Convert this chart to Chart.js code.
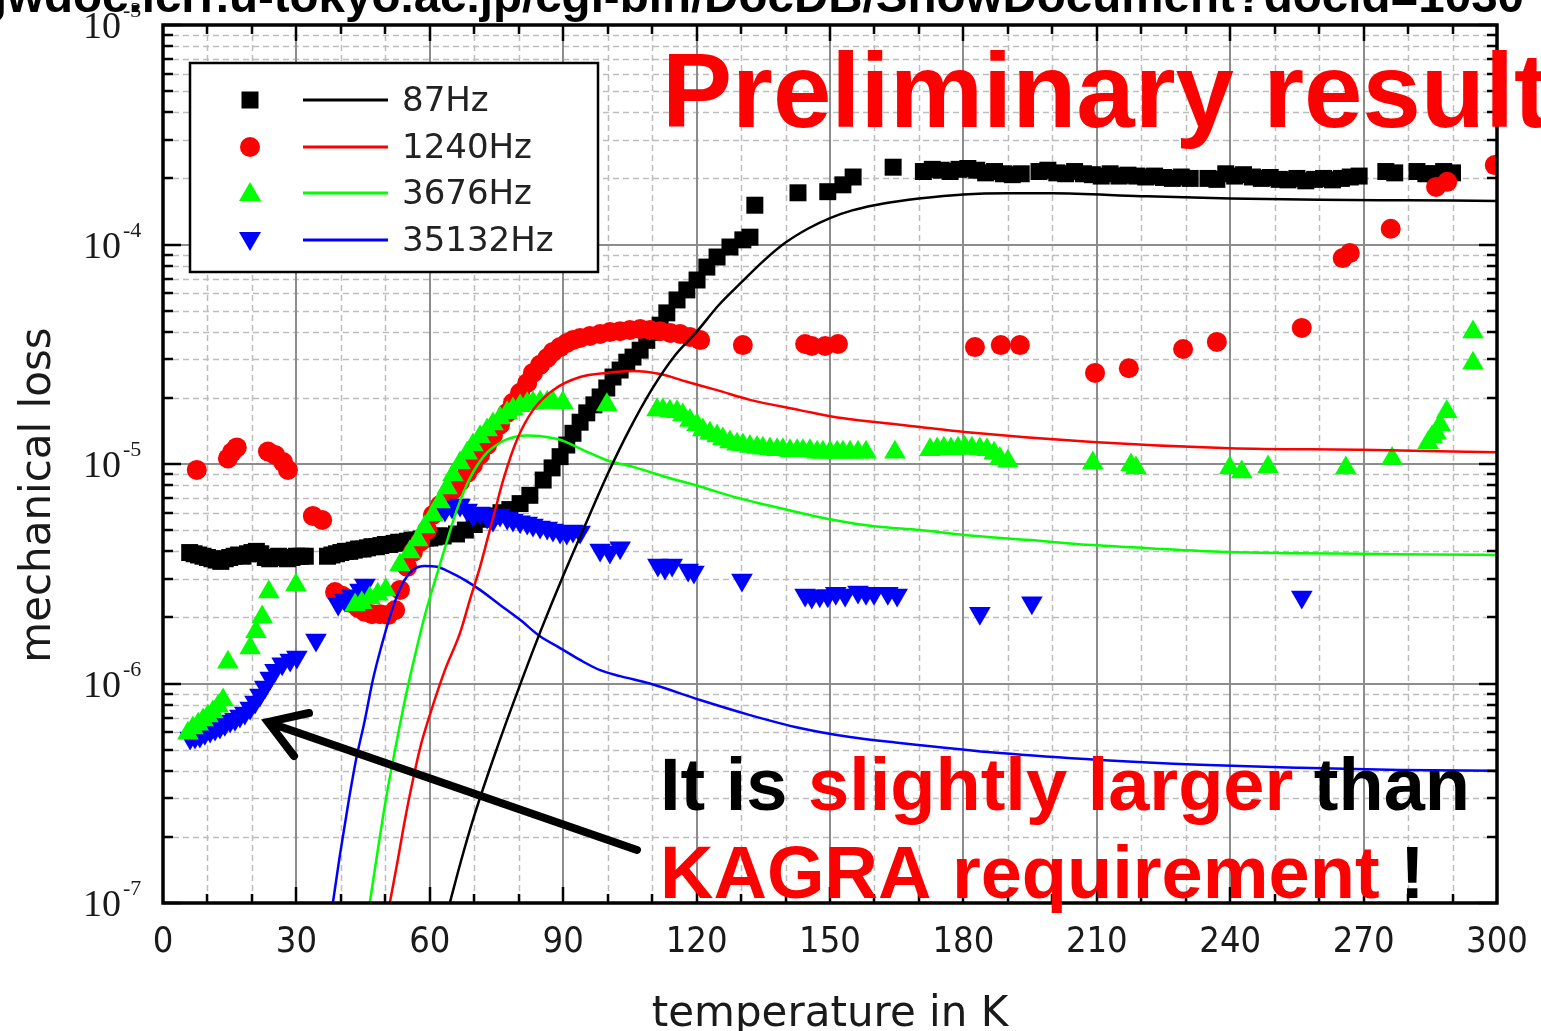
<!DOCTYPE html>
<html lang="en">
<head>
<meta charset="UTF-8">
<title>Mechanical loss vs temperature</title>
<style>
  html, body { margin: 0; padding: 0; background: #ffffff; }
  #lossChart { display: block; }
</style>
</head>
<body>
<canvas id="lossChart" width="1541" height="1031"></canvas>
<script src="https://cdn.jsdelivr.net/npm/chart.js@4"></script>
<script>
// measured loss, 87 Hz mode
const temp87 = [6, 7, 8, 9, 10, 11, 12, 13, 14, 15, 16, 17, 18, 19, 20, 21, 22, 23, 24, 25, 26, 27, 28, 29, 30, 31, 32,
  37, 38, 39, 40, 41, 42, 43, 44, 45, 46, 47, 48, 49, 50, 51, 52, 53, 54, 55, 56, 57, 58, 59, 60, 61, 62, 63,
  66, 68, 70, 72, 74, 76, 78,
  80.3, 82.5, 85.5, 87.5, 89.3, 90.8, 92.2, 93.8, 95.3, 96.9, 98.3, 99.8, 101.2, 102.8, 104.3, 105.7, 107.3, 108.8,
  110.2, 111.8, 113.3, 115.6, 117.8, 120.1, 122.3, 124.6, 127.5, 130.4, 132,
  133.1, 142.8, 149.5, 152.9, 155.2, 164.2,
  171, 173, 175, 177, 179, 181, 183, 185, 187, 189, 191, 193,
  197, 199, 201, 203, 205, 207, 209, 211, 213, 215, 217, 219, 221, 223, 225, 227, 229, 231, 235, 237,
  239, 241, 243, 245, 247, 249, 251, 253, 255, 257, 259, 261, 263, 265, 267, 269,
  275, 277, 282, 284, 286, 288, 290];
const loss87 = [3.95e-6, 3.9e-6, 3.85e-6, 3.8e-6, 3.75e-6, 3.7e-6, 3.65e-6, 3.6e-6, 3.7e-6, 3.75e-6, 3.8e-6, 3.85e-6, 3.8e-6,
  3.9e-6, 3.95e-6, 4.0e-6, 3.9e-6, 3.75e-6, 3.7e-6, 3.75e-6, 3.8e-6, 3.75e-6, 3.7e-6, 3.75e-6, 3.8e-6, 3.8e-6, 3.8e-6,
  3.8e-6, 3.85e-6, 3.9e-6, 3.95e-6, 4.0e-6, 4.0e-6, 4.05e-6, 4.1e-6, 4.1e-6, 4.15e-6, 4.2e-6, 4.2e-6, 4.25e-6, 4.3e-6,
  4.3e-6, 4.35e-6, 4.4e-6, 4.4e-6, 4.45e-6, 4.5e-6, 4.5e-6, 4.55e-6, 4.6e-6, 4.6e-6, 4.65e-6, 4.7e-6, 4.7e-6,
  4.8e-6, 5.0e-6, 5.3e-6, 5.6e-6, 5.8e-6, 6.0e-6, 6.2e-6,
  6.6e-6, 7.2e-6, 8.45e-6, 9.6e-6, 1.08e-5, 1.22e-5, 1.38e-5, 1.55e-5, 1.71e-5, 1.86e-5, 2.02e-5, 2.22e-5, 2.49e-5,
  2.68e-5, 2.91e-5, 3.07e-5, 3.3e-5, 3.66e-5, 3.98e-5, 4.29e-5, 4.88e-5, 5.59e-5, 6.21e-5, 6.89e-5, 7.89e-5, 8.77e-5,
  9.74e-5, 1.05e-4, 1.08e-4,
  1.51e-4, 1.72e-4, 1.74e-4, 1.87e-4, 2.03e-4, 2.25e-4,
  2.15e-4, 2.2e-4, 2.18e-4, 2.15e-4, 2.2e-4, 2.22e-4, 2.18e-4, 2.12e-4, 2.15e-4, 2.1e-4, 2.08e-4, 2.1e-4,
  2.15e-4, 2.18e-4, 2.12e-4, 2.1e-4, 2.15e-4, 2.1e-4, 2.08e-4, 2.05e-4, 2.1e-4, 2.05e-4, 2.07e-4, 2.05e-4, 2.03e-4,
  2.05e-4, 2.02e-4, 2.0e-4, 2.03e-4, 2.0e-4, 2.0e-4, 1.98e-4,
  2.1e-4, 2.05e-4, 2.08e-4, 2.03e-4, 2.0e-4, 2.02e-4, 1.98e-4, 1.97e-4, 2.0e-4, 1.95e-4, 1.98e-4, 2.0e-4, 1.97e-4,
  2.0e-4, 2.03e-4, 2.05e-4,
  2.15e-4, 2.12e-4, 2.15e-4, 2.1e-4, 2.1e-4, 2.15e-4, 2.12e-4];

// measured loss, 1240 Hz mode
const temp1240 = [7.6, 14.6, 15.5, 16.6, 23.6, 25.2, 27.0, 28.1, 33.7, 35.8,
  38.7, 40.3, 42.1, 43.9, 45.4, 47.0, 48.8, 50.6, 52.2, 53.3, 54.9, 56.2, 57.8, 59.4, 60.7, 62.3, 63.9, 65.2, 66.8,
  68.4, 69.7, 71.3, 72.9, 74.2, 75.8, 77.4, 78.7, 80.3, 81.9, 83.2, 84.8, 86.4, 87.7, 89.3, 90.8, 92.2, 93.8, 96.0,
  98.3, 100.5, 102.8, 105.0, 107.3, 109.5, 111.8, 114.1, 116.3, 118.5, 120.8,
  130.4, 144.4, 145.9, 148.9, 151.8, 182.6, 188.4, 192.7, 209.6, 217.2, 229.4, 237.0, 256.1, 265.3, 266.9, 276.1,
  286.3, 288.8, 299.5];
const loss1240 = [9.4e-6, 1.06e-5, 1.13e-5, 1.19e-5, 1.14e-5, 1.10e-5, 1.02e-5, 9.4e-6, 5.8e-6, 5.56e-6,
  2.61e-6, 2.51e-6, 2.33e-6, 2.21e-6, 2.12e-6, 2.07e-6, 2.07e-6, 2.05e-6, 2.16e-6, 2.67e-6, 3.4e-6, 3.97e-6, 4.41e-6,
  5.0e-6, 5.86e-6, 6.5e-6, 7.08e-6, 7.62e-6, 8.28e-6, 9.1e-6, 9.9e-6, 1.10e-5, 1.22e-5, 1.35e-5, 1.51e-5, 1.71e-5,
  1.90e-5, 2.11e-5, 2.34e-5, 2.60e-5, 2.83e-5, 3.04e-5, 3.24e-5, 3.41e-5, 3.56e-5, 3.67e-5, 3.75e-5, 3.83e-5, 3.91e-5,
  3.99e-5, 4.03e-5, 4.08e-5, 4.12e-5, 4.08e-5, 4.03e-5, 3.95e-5, 3.91e-5, 3.79e-5, 3.67e-5,
  3.48e-5, 3.52e-5, 3.45e-5, 3.45e-5, 3.52e-5, 3.41e-5, 3.48e-5, 3.48e-5, 2.60e-5, 2.73e-5, 3.34e-5, 3.60e-5,
  4.17e-5, 8.67e-5, 9.14e-5, 1.18e-4, 1.83e-4, 1.93e-4, 2.30e-4];

// measured loss, 3676 Hz mode
const temp3676 = [5.6, 6.7, 7.9, 9.0, 10.1, 11.2, 12.4, 13.5, 14.6, 19.6, 20.9, 22.3, 23.8, 29.9,
  43.2, 44.7, 46.5, 48.3, 50.1,
  53.3, 55.5, 57.3, 58.9, 60.7, 62.3, 63.9, 65.2, 66.8, 68.4, 69.7, 71.3, 72.9, 74.2, 75.8, 77.4, 78.7, 80.3, 81.9,
  83.2, 84.8, 86.4, 87.7, 89.9, 99.8,
  111.1, 112.4, 114.0, 115.6, 116.9, 118.5, 120.1, 121.4, 123.0, 124.6, 125.9, 127.5, 129.1, 130.4, 132.0, 133.6,
  134.9, 136.5, 138.1, 139.4, 141.0, 142.6, 143.9, 145.5, 147.1, 148.4, 150.0, 151.6, 152.9, 154.5, 156.3, 158.1,
  164.6, 172.5, 174.1, 175.6, 177.2, 178.8, 180.3, 181.9, 183.7, 185.3, 186.9, 188.2, 190.0,
  209.1, 217.7, 218.8, 239.9, 242.6, 248.5, 266.0, 276.4, 284.5, 285.4, 286.3, 287.2, 288.7, 294.6, 294.6];
const loss3676 = [5.94e-7, 6.27e-7, 6.53e-7, 6.82e-7, 7.11e-7, 7.41e-7, 7.88e-7, 8.41e-7, 1.25e-6, 1.45e-6, 1.72e-6,
  2.01e-6, 2.61e-6, 2.81e-6,
  2.28e-6, 2.33e-6, 2.45e-6, 2.55e-6, 2.67e-6,
  3.47e-6, 3.97e-6, 4.5e-6, 5.16e-6, 5.86e-6, 6.71e-6, 7.78e-6, 8.91e-6, 1.01e-5, 1.12e-5, 1.22e-5, 1.33e-5, 1.43e-5,
  1.52e-5, 1.62e-5, 1.71e-5, 1.78e-5, 1.84e-5, 1.88e-5, 1.90e-5, 1.91e-5, 1.91e-5, 1.91e-5, 1.90e-5, 1.86e-5,
  1.76e-5, 1.76e-5, 1.74e-5, 1.73e-5, 1.67e-5, 1.58e-5, 1.51e-5, 1.43e-5, 1.38e-5, 1.34e-5, 1.30e-5, 1.26e-5,
  1.23e-5, 1.22e-5, 1.20e-5, 1.19e-5, 1.18e-5, 1.17e-5, 1.16e-5, 1.16e-5, 1.15e-5, 1.15e-5, 1.15e-5, 1.15e-5,
  1.13e-5, 1.13e-5, 1.13e-5, 1.13e-5, 1.13e-5, 1.13e-5, 1.13e-5, 1.13e-5,
  1.13e-5, 1.16e-5, 1.17e-5, 1.18e-5, 1.17e-5, 1.18e-5, 1.19e-5, 1.18e-5, 1.17e-5, 1.16e-5, 1.12e-5, 1.06e-5, 1.03e-5,
  1.01e-5, 9.9e-6, 9.6e-6, 9.6e-6, 9.2e-6, 9.7e-6, 9.6e-6, 1.06e-5, 1.25e-5, 1.33e-5, 1.38e-5, 1.51e-5, 1.73e-5,
  2.88e-5, 3.99e-5];

// measured loss, 35132 Hz mode
const temp35132 = [6.1, 7.2, 8.3, 9.4, 10.6, 11.7, 12.8, 13.9, 15.1, 16.2, 17.3, 18.4, 19.6, 20.7, 21.8, 22.9, 24.1,
  25.2, 26.8, 28.6, 30.1, 34.4,
  39.4, 40.9, 42.5, 44.3, 45.4,
  63.4, 65.0, 66.8, 68.4, 69.7, 71.3, 72.9, 74.2, 75.8, 77.4, 78.7, 80.3, 81.9, 83.2, 84.8, 86.4, 87.7, 89.3, 90.8,
  92.2, 93.8, 98.3, 100.5, 102.8, 111.3, 112.9, 114.5, 118.1, 119.4, 130.2,
  144.4, 145.9, 147.7, 149.5, 151.3, 153.4, 156.3, 158.1, 159.9, 163.0, 165.1, 183.7, 195.4, 256.1];
const loss35132 = [5.65e-7, 5.7e-7, 5.76e-7, 5.94e-7, 6.07e-7, 6.2e-7, 6.33e-7, 6.53e-7, 6.74e-7, 6.88e-7, 7.11e-7,
  7.34e-7, 7.73e-7, 8.24e-7, 8.87e-7, 9.65e-7, 1.06e-6, 1.15e-6, 1.23e-6, 1.28e-6, 1.32e-6, 1.58e-6,
  2.30e-6, 2.40e-6, 2.51e-6, 2.67e-6, 2.81e-6,
  6.17e-6, 6.37e-6, 6.5e-6, 6.17e-6, 5.86e-6, 5.98e-6, 5.74e-6, 5.56e-6, 5.86e-6, 5.68e-6, 5.56e-6, 5.45e-6,
  5.39e-6, 5.27e-6, 5.16e-6, 5.11e-6, 5.0e-6, 4.9e-6, 4.85e-6, 4.95e-6, 4.9e-6, 4.06e-6, 3.97e-6, 4.15e-6,
  3.47e-6, 3.36e-6, 3.47e-6, 3.29e-6, 3.22e-6, 2.96e-6,
  2.53e-6, 2.48e-6, 2.51e-6, 2.51e-6, 2.58e-6, 2.53e-6, 2.61e-6, 2.58e-6, 2.58e-6, 2.58e-6, 2.53e-6, 2.09e-6,
  2.33e-6, 2.48e-6];

// model curves
const fitTemp87 = [64.5, 67, 70, 75, 80, 85, 90, 95, 100, 105, 110, 115, 120, 125, 130, 135, 140, 145, 150, 155, 160,
  165, 170, 180, 190, 200, 220, 240, 260, 280, 300];
const fit87 = [1.0e-7, 1.55e-7, 2.5e-7, 5.0e-7, 9.5e-7, 1.75e-6, 3.1e-6, 5.3e-6, 9.0e-6, 1.45e-5, 2.2e-5, 3.1e-5,
  4.0e-5, 5.3e-5, 6.7e-5, 8.4e-5, 1.02e-4, 1.18e-4, 1.32e-4, 1.43e-4, 1.51e-4, 1.57e-4, 1.62e-4, 1.69e-4, 1.71e-4,
  1.71e-4, 1.66e-4, 1.62e-4, 1.60e-4, 1.59e-4, 1.58e-4];

const fitTemp1240 = [51.0, 52.8, 54.4, 56.2, 58.0, 60.0, 63.4, 66.8, 69.0, 71.3, 72.9, 74.7, 76.5, 79.6, 83.2, 87.7,
  93.8, 99.8, 105.7, 111.8, 117.8, 124.6, 132.0, 143.2, 150.7, 165.7, 180.3, 209.1, 239.9, 269.6, 300];
const fit1240 = [1.0e-7, 1.57e-7, 2.39e-7, 3.63e-7, 5.25e-7, 7.18e-7, 1.15e-6, 1.70e-6, 2.40e-6, 3.40e-6, 4.5e-6,
  6.17e-6, 8.45e-6, 1.29e-5, 1.76e-5, 2.17e-5, 2.49e-5, 2.60e-5, 2.65e-5, 2.57e-5, 2.37e-5, 2.17e-5, 1.96e-5,
  1.76e-5, 1.64e-5, 1.51e-5, 1.40e-5, 1.26e-5, 1.18e-5, 1.16e-5, 1.13e-5];

const fitTemp3676 = [46.5, 48.3, 50.1, 52.2, 54.4, 56.7, 58.9, 61.2, 63.4, 66.1, 69.0, 72.4, 75.8, 79.2, 81.9, 84.8,
  89.3, 94.4, 99.8, 105.7, 113.3, 120.8, 128.2, 135.8, 143.2, 150, 160, 170.2, 180.3, 195, 209.1, 225, 239.9, 255,
  269.6, 285, 300];
const fit3676 = [1.0e-7, 1.74e-7, 2.95e-7, 5.0e-7, 8.4e-7, 1.35e-6, 2.05e-6, 2.96e-6, 4.15e-6, 6.2e-6, 8.6e-6,
  1.1e-5, 1.25e-5, 1.33e-5, 1.35e-5, 1.34e-5, 1.29e-5, 1.16e-5, 1.04e-5, 9.7e-6, 8.7e-6, 7.9e-6, 7.1e-6, 6.5e-6,
  6.0e-6, 5.6e-6, 5.2e-6, 5.0e-6, 4.75e-6, 4.5e-6, 4.27e-6, 4.1e-6, 3.97e-6, 3.92e-6, 3.9e-6, 3.87e-6, 3.85e-6];

const fitTemp35132 = [38.2, 39.8, 41.6, 43.4, 45.4, 47.2, 49.2, 51.5, 53.7, 56.2, 58.9, 61.6, 64.5, 67.9, 71.3,
  75.8, 80.3, 84.8, 89.3, 93.8, 98.3, 102.8, 109.5, 120.8, 132.0, 143.2, 154.5, 165.7, 188.2, 210.7, 233.2, 255.7,
  278.2, 300];
const fit35132 = [1.0e-7, 1.66e-7, 2.79e-7, 4.48e-7, 6.82e-7, 1.04e-6, 1.50e-6, 2.16e-6, 2.81e-6, 3.29e-6, 3.43e-6,
  3.40e-6, 3.22e-6, 2.96e-6, 2.67e-6, 2.28e-6, 1.95e-6, 1.64e-6, 1.45e-6, 1.28e-6, 1.15e-6, 1.08e-6, 1.0e-6, 8.41e-7,
  7.18e-7, 6.27e-7, 5.7e-7, 5.36e-7, 4.82e-7, 4.48e-7, 4.26e-7, 4.13e-7, 4.04e-7, 4.0e-7];

const seriesLabels = ['87Hz', '1240Hz', '3676Hz', '35132Hz'];
const seriesColors = ['#000000', '#ff0000', '#00ff00', '#0000ff'];
const tempTicks = [0, 30, 60, 90, 120, 150, 180, 210, 240, 270, 300];
const lossExponents = [-7, -6, -5, -4, -3];

function pairs(xs, ys) {
  return xs.map((t, i) => ({ x: t, y: ys[i] }));
}

function measured(i, xs, ys, style, radius, rotation, order) {
  return {
    label: seriesLabels[i],
    type: 'scatter',
    data: pairs(xs, ys),
    pointStyle: style,
    pointRadius: radius,
    rotation: rotation,
    backgroundColor: seriesColors[i],
    borderWidth: 0,
    clip: 0,
    order: order
  };
}

function model(i, xs, ys) {
  return {
    label: seriesLabels[i] + ' model',
    type: 'line',
    data: pairs(xs, ys),
    showLine: true,
    borderColor: seriesColors[i],
    borderWidth: 2.5,
    pointRadius: 0,
    cubicInterpolationMode: 'monotone',
    fill: false,
    clip: 0,
    order: 0
  };
}

const datasets = [
  model(0, fitTemp87, fit87),
  model(1, fitTemp1240, fit1240),
  model(2, fitTemp3676, fit3676),
  model(3, fitTemp35132, fit35132),
  measured(2, temp3676, loss3676, 'triangle', 12.5, 0, 1),
  measured(3, temp35132, loss35132, 'triangle', 12.5, 180, 2),
  measured(1, temp1240, loss1240, 'circle', 10, 0, 3),
  measured(0, temp87, loss87, 'rect', 12, 0, 4)
];

function hline(ctx, x1, x2, y) {
  ctx.beginPath(); ctx.moveTo(x1, y); ctx.lineTo(x2, y); ctx.stroke();
}
function vline(ctx, x, y1, y2) {
  ctx.beginPath(); ctx.moveTo(x, y1); ctx.lineTo(x, y2); ctx.stroke();
}

function marker(ctx, kind, x, y, color) {
  ctx.fillStyle = color;
  ctx.beginPath();
  if (kind === 'rect') {
    ctx.rect(x - 8.5, y - 8.5, 17, 17);
  } else if (kind === 'circle') {
    ctx.arc(x, y, 10, 0, Math.PI * 2);
  } else if (kind === 'up') {
    ctx.moveTo(x, y - 11); ctx.lineTo(x + 11, y + 8); ctx.lineTo(x - 11, y + 8);
  } else {
    ctx.moveTo(x, y + 11); ctx.lineTo(x + 11, y - 8); ctx.lineTo(x - 11, y - 8);
  }
  ctx.closePath();
  ctx.fill();
}

function runs(ctx, parts, x, y) {
  for (const [text, color] of parts) {
    ctx.fillStyle = color;
    ctx.fillText(text, x, y);
    x += ctx.measureText(text).width;
  }
}

// grid, frame, axis text, legend and notes around the plotted data
const decorations = {
  id: 'decorations',
  beforeDatasetsDraw(chart) {
    const { ctx, chartArea: a, scales: { x, y } } = chart;
    ctx.save();
    ctx.lineWidth = 1.5;
    ctx.strokeStyle = '#bdbdbd';
    ctx.setLineDash([6, 4]);
    for (let t = 10; t < 300; t += 10) {
      if (t % 30 !== 0) vline(ctx, Math.round(x.getPixelForValue(t)) + 0.5, a.top, a.bottom);
    }
    for (let e = -7; e < -3; e++) {
      for (let m = 2; m <= 9; m++) {
        hline(ctx, a.left, a.right, Math.round(y.getPixelForValue(m * Math.pow(10, e))) + 0.5);
      }
    }
    ctx.setLineDash([]);
    ctx.strokeStyle = '#8c8c8c';
    ctx.lineWidth = 2;
    tempTicks.forEach(t => vline(ctx, Math.round(x.getPixelForValue(t)), a.top, a.bottom));
    lossExponents.forEach(e => hline(ctx, a.left, a.right, Math.round(y.getPixelForValue(Math.pow(10, e)))));
    ctx.restore();
  },
  afterDatasetsDraw(chart) {
    const { ctx, chartArea: a, scales: { x, y } } = chart;
    ctx.save();

    // tick marks pointing into the frame
    ctx.strokeStyle = '#000';
    ctx.lineWidth = 2.5;
    for (let t = 10; t < 300; t += 10) {
      const px = Math.round(x.getPixelForValue(t));
      const len = t % 30 === 0 ? 16 : 9;
      vline(ctx, px, a.top, a.top + len);
      vline(ctx, px, a.bottom, a.bottom - len);
    }
    for (let e = -7; e <= -3; e++) {
      for (let m = 1; m <= 9; m++) {
        if (e === -3 && m > 1) break;
        const py = Math.round(y.getPixelForValue(m * Math.pow(10, e)));
        const len = m === 1 ? 18 : 10;
        hline(ctx, a.left, a.left + len, py);
        hline(ctx, a.right, a.right - len, py);
      }
    }
    ctx.lineWidth = 3.5;
    ctx.strokeRect(a.left, a.top, a.right - a.left, a.bottom - a.top);

    // axis numbers
    ctx.fillStyle = '#1a1a1a';
    ctx.textAlign = 'center';
    ctx.textBaseline = 'alphabetic';
    ctx.font = '36px "Liberation Sans Narrow", "DejaVu Sans Condensed", sans-serif';
    tempTicks.forEach(t => ctx.fillText(String(t), x.getPixelForValue(t), 952));
    lossExponents.forEach(e => {
      const py = y.getPixelForValue(Math.pow(10, e));
      ctx.textAlign = 'right';
      ctx.font = '38px "Liberation Serif", serif';
      ctx.fillText('10', 121, py + 13);
      ctx.textAlign = 'left';
      ctx.font = '22px "Liberation Serif", serif';
      ctx.fillText(String(e), 123, py - 8);
    });

    // axis titles
    ctx.font = '42px "DejaVu Sans", Verdana, sans-serif';
    ctx.textAlign = 'center';
    ctx.fillText('temperature in K', (a.left + a.right) / 2, 1026);
    ctx.save();
    ctx.translate(50, 495);
    ctx.rotate(-Math.PI / 2);
    ctx.fillText('mechanical loss', 0, 0);
    ctx.restore();

    // legend
    ctx.fillStyle = '#fff';
    ctx.fillRect(190, 63, 408, 209);
    ctx.strokeStyle = '#000';
    ctx.lineWidth = 2.5;
    ctx.strokeRect(190, 63, 408, 209);
    const rows = [100, 147, 193, 240];
    const kinds = ['rect', 'circle', 'up', 'down'];
    ctx.font = '34px "DejaVu Sans", Verdana, sans-serif';
    ctx.textAlign = 'left';
    ctx.textBaseline = 'middle';
    rows.forEach((ry, i) => {
      marker(ctx, kinds[i], 250, ry, seriesColors[i]);
      ctx.strokeStyle = seriesColors[i];
      ctx.lineWidth = 3;
      hline(ctx, 303, 388, ry);
      ctx.fillStyle = '#222';
      ctx.fillText(seriesLabels[i], 402, ry + 2);
    });

    // notes
    ctx.textBaseline = 'alphabetic';
    ctx.font = 'bold 105px "Liberation Sans", Arial, sans-serif';
    ctx.fillStyle = '#ff0000';
    ctx.fillText('Preliminary result', 662, 127);

    ctx.font = 'bold 74px "Liberation Sans", Arial, sans-serif';
    runs(ctx, [['It is ', '#000'], ['slightly larger', '#ff0000'], [' than', '#000']], 660, 810);
    runs(ctx, [['KAGRA requirement', '#ff0000'], [' !', '#000']], 660, 898);

    // arrow
    ctx.strokeStyle = '#000';
    ctx.lineWidth = 8;
    ctx.lineCap = 'round';
    ctx.beginPath();
    ctx.moveTo(637, 850);
    ctx.lineTo(270, 723);
    ctx.moveTo(309, 713);
    ctx.lineTo(268, 722);
    ctx.lineTo(294, 756);
    ctx.stroke();

    // source line, cut by the top edge
    const source = 'gwdoc.icrr.u-tokyo.ac.jp/cgi-bin/DocDB/ShowDocument?docid=1030';
    ctx.fillStyle = '#000';
    ctx.font = 'bold 46px "Liberation Sans", Arial, sans-serif';
    ctx.textAlign = 'left';
    const w = ctx.measureText(source).width;
    ctx.translate(-22, 12);
    ctx.scale(1546 / w, 1);
    ctx.fillText(source, 0, 0);

    ctx.restore();
  }
};

new Chart(document.getElementById('lossChart'), {
  type: 'scatter',
  data: { datasets: datasets },
  options: {
    responsive: false,
    animation: false,
    layout: { padding: { left: 163, right: 44, top: 25, bottom: 128 } },
    plugins: {
      legend: { display: false },
      tooltip: { enabled: false }
    },
    scales: {
      x: { type: 'linear', min: 0, max: 300, display: false },
      y: { type: 'logarithmic', min: 1e-7, max: 1e-3, display: false }
    }
  },
  plugins: [decorations]
});
</script>
</body>
</html>
